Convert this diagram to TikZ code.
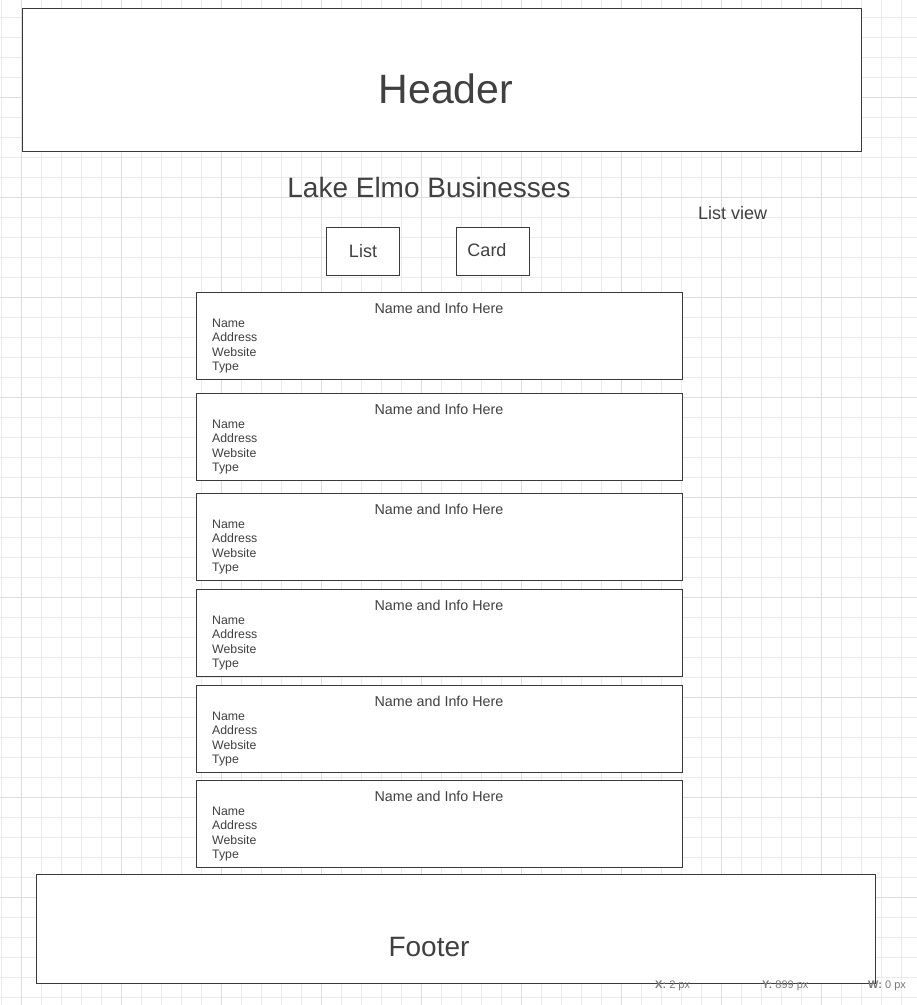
\documentclass[tikz,border=0pt]{standalone}
\usepackage{fontspec}
\setmainfont{Liberation Sans}
\definecolor{txt}{HTML}{404040}
\definecolor{edge}{HTML}{3a3a3a}
\definecolor{gridminor}{HTML}{EBEBEB}
\definecolor{gridmajor}{HTML}{DEDEDE}
\definecolor{stat}{HTML}{7A7A7A}
\tikzset{
  box/.style={draw=edge, line width=0.85pt, fill=white},
  lbl/.style={text=txt, inner sep=0pt, text depth=0pt},
  sm/.style={lbl, anchor=west, text height=8.8pt, font=\fontsize{12.3}{14}\selectfont},
  ttl/.style={lbl, text height=10.2pt, font=\fontsize{14.3}{16}\selectfont},
  big/.style={lbl, text height=20pt, font=\fontsize{28}{33}\selectfont},
  mid/.style={lbl, text height=12.9pt, font=\fontsize{18}{21}\selectfont},
  statlbl/.style={text=stat, inner sep=0pt, text height=7.9pt, text depth=0pt, anchor=west, font=\fontsize{11}{13}\selectfont}
}
\begin{document}
\begin{tikzpicture}[x=1pt,y=-1pt]
\useasboundingbox (0,0) rectangle (917,1005);
% grid
\foreach \i in {0,...,46} {\draw[gridminor, line width=0.8pt] ({1+20*\i},0) -- ({1+20*\i},1005);}
\foreach \j in {-1,...,50} {\draw[gridminor, line width=0.8pt] (0,{17.3+20*\j}) -- (917,{17.3+20*\j});}
\foreach \i in {0,...,9} {\draw[gridmajor, line width=0.9pt] ({21+100*\i},0) -- ({21+100*\i},1005);}
\foreach \j in {0,...,9} {\draw[gridmajor, line width=0.9pt] (0,{-2.7+100*\j}) -- (917,{-2.7+100*\j});}
% header
\draw[box] (22,8) rectangle (861,151);
\node[lbl, text height=29.4pt, font=\fontsize{41}{48}\selectfont] (header) at (446,89) {Header};
% title
\node[big] (title) at (429,187) {Lake Elmo Businesses};
\node[mid, anchor=west] (listview) at (698,213) {List view};
% buttons
\draw[box] (326,227) rectangle (399,275);
\node[mid] (listbtn) at (363,251) {List};
\draw[box] (456,227) rectangle (529,275);
\node[mid] (cardbtn) at (487,250) {Card};
% cards
\foreach \t [count=\k] in {292,393,493,589,685,780} {
  \draw[box] (196,\t) rectangle (682,\t+87);
  \node[ttl] (card\k) at (439,\t+16) {Name and Info Here};
  \node[sm] (name\k) at (212,\t+31) {Name};
  \node[sm] (addr\k) at (212,\t+45.5) {Address};
  \node[sm] (web\k) at (212,\t+60) {Website};
  \node[sm] (type\k) at (212,\t+74.5) {Type};
}
% footer
\draw[box] (36,874) rectangle (875,983);
\node[big] (footer) at (429,946) {Footer};
% status
\node[statlbl] (sx) at (655,985) {\textbf{X:} 2 px};
\node[statlbl] (sy) at (762,985) {\textbf{Y:} 899 px};
\node[statlbl] (sw) at (868,985) {\textbf{W:} 0 px};
\end{tikzpicture}
\end{document}
